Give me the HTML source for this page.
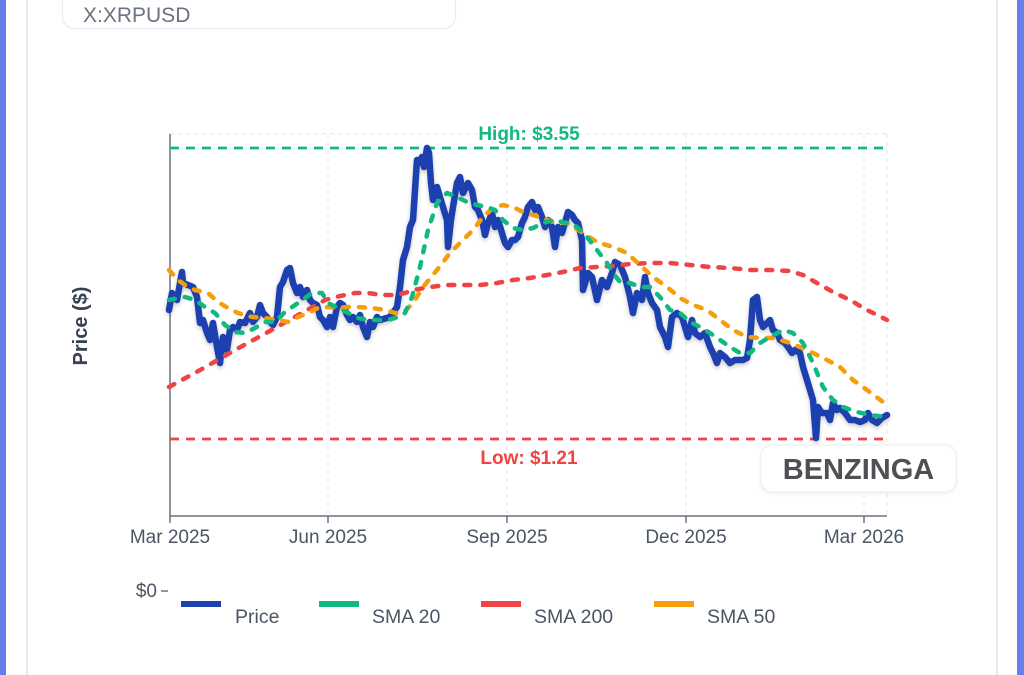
<!DOCTYPE html>
<html>
<head>
<meta charset="utf-8">
<style>
html,body{margin:0;padding:0;background:#fff;}
body{width:1024px;height:675px;overflow:hidden;position:relative;font-family:"Liberation Sans",Arial,sans-serif;}
svg{position:absolute;left:0;top:0;}
</style>
</head>
<body>
<svg width="1024" height="675" viewBox="0 0 1024 675" xmlns="http://www.w3.org/2000/svg" font-family="Liberation Sans, Arial, sans-serif">
  <defs>
    <filter id="sh" x="-5%" y="-5%" width="110%" height="120%">
      <feDropShadow dx="0" dy="2" stdDeviation="2" flood-color="#000" flood-opacity="0.22"/>
    </filter>
    <filter id="bs" x="-10%" y="-20%" width="120%" height="150%">
      <feDropShadow dx="0" dy="1" stdDeviation="1.5" flood-color="#000" flood-opacity="0.08"/>
    </filter>
  </defs>
  <!-- page frame -->
  <rect x="0" y="0" width="6" height="675" fill="#6a7ee9"/>
  <rect x="1017" y="0" width="7" height="675" fill="#6a7ee9"/>
  <rect x="26" y="0" width="2" height="675" fill="#e8e8ec"/>
  <rect x="996" y="0" width="2" height="675" fill="#e8e8ec"/>

  <!-- header card -->
  <rect x="62.5" y="-20" width="393" height="48.5" rx="12" fill="#fff" stroke="#ececf0" stroke-width="1.2"/>
  <text x="83" y="22" font-size="21" fill="#6b7280">X:XRPUSD</text>

  <!-- grid -->
  <g stroke="#e3e4e8" stroke-width="1" stroke-dasharray="4 4" fill="none">
    <line x1="170" y1="134" x2="887" y2="134"/>
    <line x1="328" y1="134" x2="328" y2="516"/>
    <line x1="507" y1="134" x2="507" y2="516"/>
    <line x1="686" y1="134" x2="686" y2="516"/>
    <line x1="864" y1="134" x2="864" y2="516"/>
    <line x1="887" y1="134" x2="887" y2="516"/>
  </g>

  <!-- axes -->
  <line x1="170" y1="134" x2="170" y2="517" stroke="#6b7280" stroke-width="1.5"/>
  <line x1="170" y1="516" x2="887" y2="516" stroke="#6b7280" stroke-width="1.5"/>
  <g stroke="#6b7280" stroke-width="1.5">
    <line x1="170" y1="516" x2="170" y2="523"/>
    <line x1="328" y1="516" x2="328" y2="523"/>
    <line x1="507" y1="516" x2="507" y2="523"/>
    <line x1="686" y1="516" x2="686" y2="523"/>
    <line x1="864" y1="516" x2="864" y2="523"/>
    <line x1="161" y1="591" x2="168" y2="591"/>
  </g>
  <g font-size="19" fill="#4b5563" text-anchor="middle">
    <text x="170" y="543">Mar 2025</text>
    <text x="328" y="543">Jun 2025</text>
    <text x="507" y="543">Sep 2025</text>
    <text x="686" y="543">Dec 2025</text>
    <text x="864" y="543">Mar 2026</text>
  </g>
  <text x="157" y="597" font-size="19" fill="#4b5563" text-anchor="end">$0</text>

  <text transform="translate(87,326) rotate(-90)" font-size="20" font-weight="bold" fill="#374151" text-anchor="middle">Price ($)</text>

  <!-- high / low -->
  <line x1="170" y1="148" x2="887" y2="148" stroke="#10b981" stroke-width="2.8" stroke-dasharray="9 7"/>
  <line x1="170" y1="439" x2="887" y2="439" stroke="#ef4444" stroke-width="2.8" stroke-dasharray="9 7"/>
  <text x="529" y="140" font-size="19" font-weight="bold" fill="#10b981" text-anchor="middle">High: $3.55</text>
  <text x="529" y="464" font-size="19" font-weight="bold" fill="#ef4444" text-anchor="middle">Low: $1.21</text>

  <!-- Price -->
  <polyline fill="none" stroke="#1e40af" stroke-width="6.5" stroke-linejoin="round" stroke-linecap="round" filter="url(#sh)"
    points="169,310 172,293 177,300 182,272 183,283 188,285 193,287 197,297 200,323 203,320 207,333 210,340 213,323 217,347 220,363 223,337 227,350 230,330 233,327 237,330 240,322 245,323 250,313 253,322 257,317 260,305 263,313 267,317 270,322 273,325 277,317 280,287 283,282 287,270 290,268 293,283 297,293 300,287 303,297 307,290 310,300 313,303 317,305 320,317 323,320 327,327 330,317 333,327 337,307 340,303 343,305 347,315 350,320 353,317 357,322 360,315 363,327 367,337 370,322 373,327 377,317 380,320 390,317 397,307 400,287 403,260 407,247 410,227 413,220 415,190 417,160 419,163 422,157 424,167 427,148 429,153 431,183 433,200 435,193 437,187 440,197 443,207 447,220 448,247 451,220 453,207 457,183 460,177 463,193 466,187 468,183 472,190 475,207 478,210 482,220 485,235 488,223 492,213 495,227 498,220 502,233 505,243 508,247 512,240 515,240 518,237 522,223 525,217 528,207 532,202 535,210 538,207 542,217 545,227 548,220 552,227 555,247 558,227 562,233 565,223 568,212 572,215 575,220 578,223 582,240 583,290 588,273 592,277 597,300 602,280 607,287 612,273 615,262 620,265 625,277 630,297 633,313 637,293 642,300 645,277 648,293 652,303 657,310 660,327 665,337 668,347 672,317 677,313 682,317 685,327 688,337 692,320 695,333 700,337 705,333 710,347 713,353 717,363 720,353 725,357 730,363 735,360 740,360 743,360 747,358 750,340 753,300 757,297 760,320 763,327 767,323 770,320 773,330 777,333 780,340 785,343 788,347 792,353 795,350 800,353 803,367 807,380 810,390 813,400 816,438 818,407 822,413 827,413 830,420 833,403 837,410 840,408 845,413 850,420 855,420 860,422 865,420 868,413 872,420 877,423 882,418 887,415"/>

  <!-- SMA 200 -->
  <polyline fill="none" stroke="#ef4444" stroke-width="4.5" stroke-dasharray="6 10" stroke-linecap="round" stroke-linejoin="round"
    points="169,387 202,369 235,350 268,332 300,314 325,300 340,296 355,293 368,293 382,295 395,295 405,293 413,290 430,287 447,285 463,285 480,285 497,283 513,280 530,278 547,275 563,272 580,268 597,267 613,266 630,264 650,263 670,263 690,265 710,267 730,268 750,270 770,270 790,271 803,275 817,283 833,292 850,300 867,310 887,320"/>

  <!-- SMA 50 -->
  <polyline fill="none" stroke="#f59e0b" stroke-width="4.5" stroke-dasharray="6 10" stroke-linecap="round" stroke-linejoin="round"
    points="169,270 178,280 185,285 195,290 208,293 218,302 228,308 238,313 252,317 265,318 278,320 288,322 298,317 308,313 318,308 328,307 338,308 348,307 358,307 372,308 385,310 395,313 403,313 413,303 423,287 437,270 450,253 463,240 473,230 483,217 493,208 503,205 513,207 523,212 533,215 543,218 553,222 567,223 583,233 597,242 613,247 627,253 640,265 653,277 667,287 680,298 693,305 707,310 720,320 733,330 747,337 760,338 773,338 787,342 800,347 813,353 827,360 840,367 853,380 867,390 883,402 887,405"/>

  <!-- SMA 20 -->
  <polyline fill="none" stroke="#10b981" stroke-width="4.5" stroke-dasharray="6 10" stroke-linecap="round" stroke-linejoin="round"
    points="169,300 178,298 185,297 195,300 205,307 215,313 225,325 235,332 245,333 255,328 265,322 275,322 285,312 298,303 312,293 322,293 328,303 338,308 348,313 358,318 368,320 378,320 388,320 398,317 405,313 412,297 420,267 428,230 437,203 447,193 457,197 467,202 477,205 487,207 495,210 503,220 513,228 523,230 533,228 543,223 553,220 567,223 577,227 587,237 597,250 607,263 613,273 620,282 630,283 640,287 650,287 660,297 670,310 680,313 690,322 700,327 710,333 720,340 730,347 740,353 750,353 760,343 770,337 783,330 793,333 803,343 813,363 823,387 833,400 843,407 857,412 870,415 887,417"/>

  <!-- Benzinga badge -->
  <rect x="761" y="445" width="195" height="47" rx="11" fill="#fff" stroke="#efeff2" stroke-width="1.2" filter="url(#bs)"/>
  <text x="858.5" y="479" font-size="29" font-weight="bold" fill="#505054" text-anchor="middle">BENZINGA</text>

  <!-- legend -->
  <rect x="181" y="601" width="40" height="6" fill="#1e40af"/>
  <rect x="319" y="601" width="40" height="6" fill="#10b981"/>
  <rect x="481" y="601" width="40" height="6" fill="#ef4444"/>
  <rect x="654" y="601" width="40" height="6" fill="#f59e0b"/>
  <g font-size="19.5" fill="#4b5563">
    <text x="235" y="623">Price</text>
    <text x="372" y="623">SMA 20</text>
    <text x="534" y="623">SMA 200</text>
    <text x="707" y="623">SMA 50</text>
  </g>
</svg>
</body>
</html>
